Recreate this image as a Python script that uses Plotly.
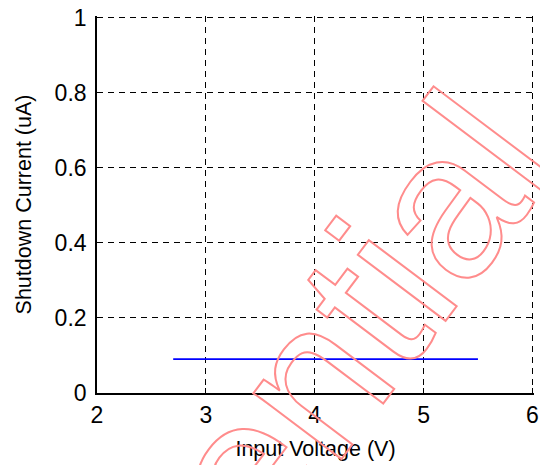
import plotly.graph_objects as go

# Data
input_voltage = [2.7, 3.0, 3.5, 4.0, 4.5, 5.0, 5.5]
shutdown_current = [0.09, 0.09, 0.09, 0.09, 0.09, 0.09, 0.09]

x_ticks = [2, 3, 4, 5, 6]
y_ticks = [0, 0.2, 0.4, 0.6, 0.8, 1]
y_tick_labels = ["0", "0.2", "0.4", "0.6", "0.8", "1"]

watermark_text = "Confidential"

FONT = "Arial, 'Liberation Sans', sans-serif"

fig = go.Figure()
fig.add_trace(go.Scatter(
    x=input_voltage, y=shutdown_current, mode="lines",
    line=dict(color="#0000ff", width=1.8), showlegend=False, hoverinfo="skip",
))

axis_common = dict(
    showline=True, linecolor="black", linewidth=1.6,
    showgrid=True, gridcolor="black", gridwidth=1.3, griddash="6px,5px",
    ticks="inside", ticklen=5, tickwidth=1.3, tickcolor="black",
    zeroline=False, mirror=False, automargin=False,
    ticklabeloverflow="allow",
    tickfont=dict(family=FONT, size=23, color="black"),
)

# ranges nudged a hair past the last tick so the edge grid lines are drawn
fig.update_xaxes(
    range=[2, 6.015], tickvals=x_ticks, ticktext=[str(v) for v in x_ticks],
    ticklabelstandoff=1,
    title=dict(text="Input Voltage (V)", font=dict(family=FONT, size=21.5, color="black"), standoff=14),
    **axis_common,
)
fig.update_yaxes(
    range=[0, 1.004], tickvals=y_ticks, ticktext=y_tick_labels,
    ticklabelstandoff=4,
    title=dict(text="Shutdown Current (uA)", font=dict(family=FONT, size=21.5, color="black"), standoff=17),
    **axis_common,
)

fig.add_annotation(
    text=watermark_text, xref="paper", yref="paper",
    x=0.1773, y=-0.4456, xanchor="center", yanchor="middle",
    textangle=-53, showarrow=False,
    font=dict(family=FONT, size=208, color="#ff8c8c"),
)

fig.update_layout(
    width=548, height=465,
    margin=dict(l=89, r=22, t=8, b=80),
    paper_bgcolor="white", plot_bgcolor="white",
)

post_js = """
var gd = document.getElementById('{plot_id}');
function styleWatermark() {
  gd.querySelectorAll('.annotation-text').forEach(function (t) {
    if (t.textContent === 'Confidential') {
      t.style.fill = 'none';
      t.style.stroke = '#ff8c8c';
      t.style.strokeWidth = '2px';
    }
  });
}
styleWatermark();
gd.on('plotly_afterplot', styleWatermark);
"""

fig.write_html("out.html", post_script=post_js)
